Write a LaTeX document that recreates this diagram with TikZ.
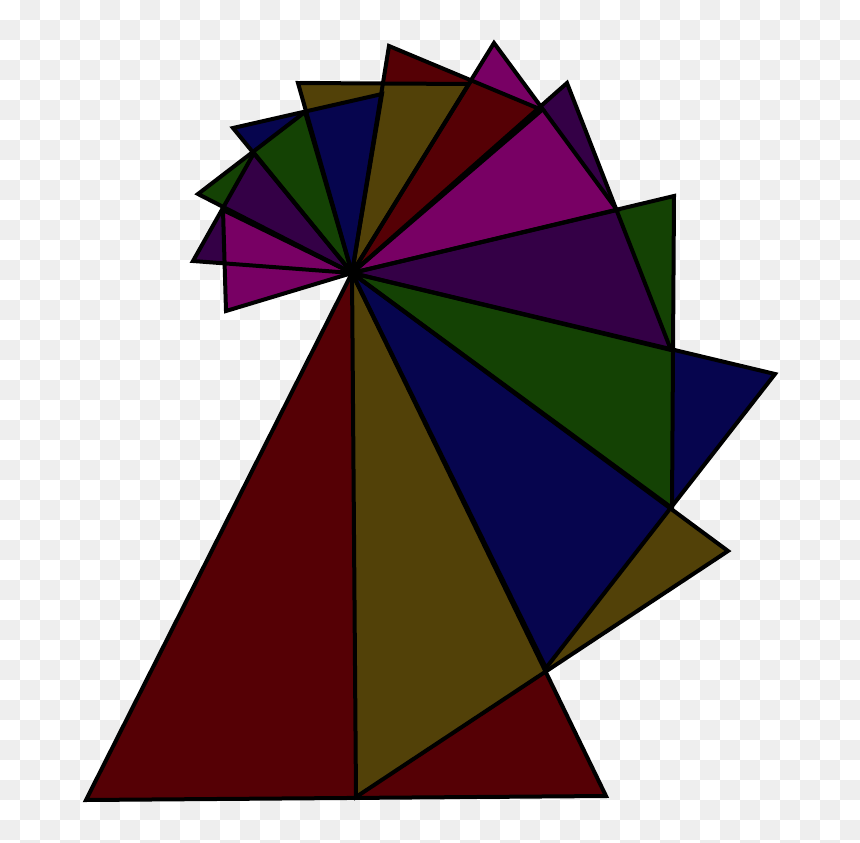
\documentclass[tikz,border=0pt]{standalone}
\usepackage{tikz}

\definecolor{checkgray}{RGB}{238,238,238}
\definecolor{spired}{RGB}{85,0,5}
\definecolor{spiolive}{RGB}{82,65,8}
\definecolor{spiblue}{RGB}{6,5,78}
\definecolor{spigreen}{RGB}{20,66,4}
\definecolor{spipurple}{RGB}{52,0,70}
\definecolor{spimagenta}{RGB}{120,0,100}

\begin{document}
\begin{tikzpicture}[x=1pt, y=-1pt,
    edge/.style={line width=4pt, line join=miter}]
    \useasboundingbox (0,0) rectangle (860,843);

    % --- background: checkerboard ---
    \begin{scope}
        \clip (0,0) rectangle (860,843);
        \fill[white] (0,0) rectangle (860,843);
        \foreach \i in {0,...,42} \foreach \j in {0,...,42} {
            \pgfmathtruncatemacro{\odd}{mod(\i+\j,2)}
            \ifnum\odd=1 \fill[checkgray] (20*\i,20*\j) rectangle ++(20,20); \fi
        }
    \end{scope}

    % --- spiral of triangles round the centre ---
    \coordinate (C) at (352,273);
    \foreach \k/\px/\py/\qx/\qy/\col in {
        0/86/800/606/796/spired,
        1/356/797/728/551/spiolive,
        2/546/668/775/374/spiblue,
        3/672/508/674/196/spigreen,
        4/671/350/567/83/spipurple,
        5/617/210/494/43/spimagenta,
        6/542/110/389/46/spired,
        7/469/84/298/83/spiolive,
        8/382/94/233/128/spiblue,
        9/305/112/198/194/spigreen,
        10/254/153/193/261/spipurple,
        11/223/210/226/311/spimagenta} {
        \coordinate (P\k) at (\px,\py);
        \coordinate (Q\k) at (\qx,\qy);
        \fill[\col] (C) -- (P\k) -- (Q\k) -- cycle;
    }

    % outlines on top
    \foreach \k in {0,...,11}
        \draw[edge] (C) -- (P\k) -- (Q\k) -- cycle;
\end{tikzpicture}
\end{document}
